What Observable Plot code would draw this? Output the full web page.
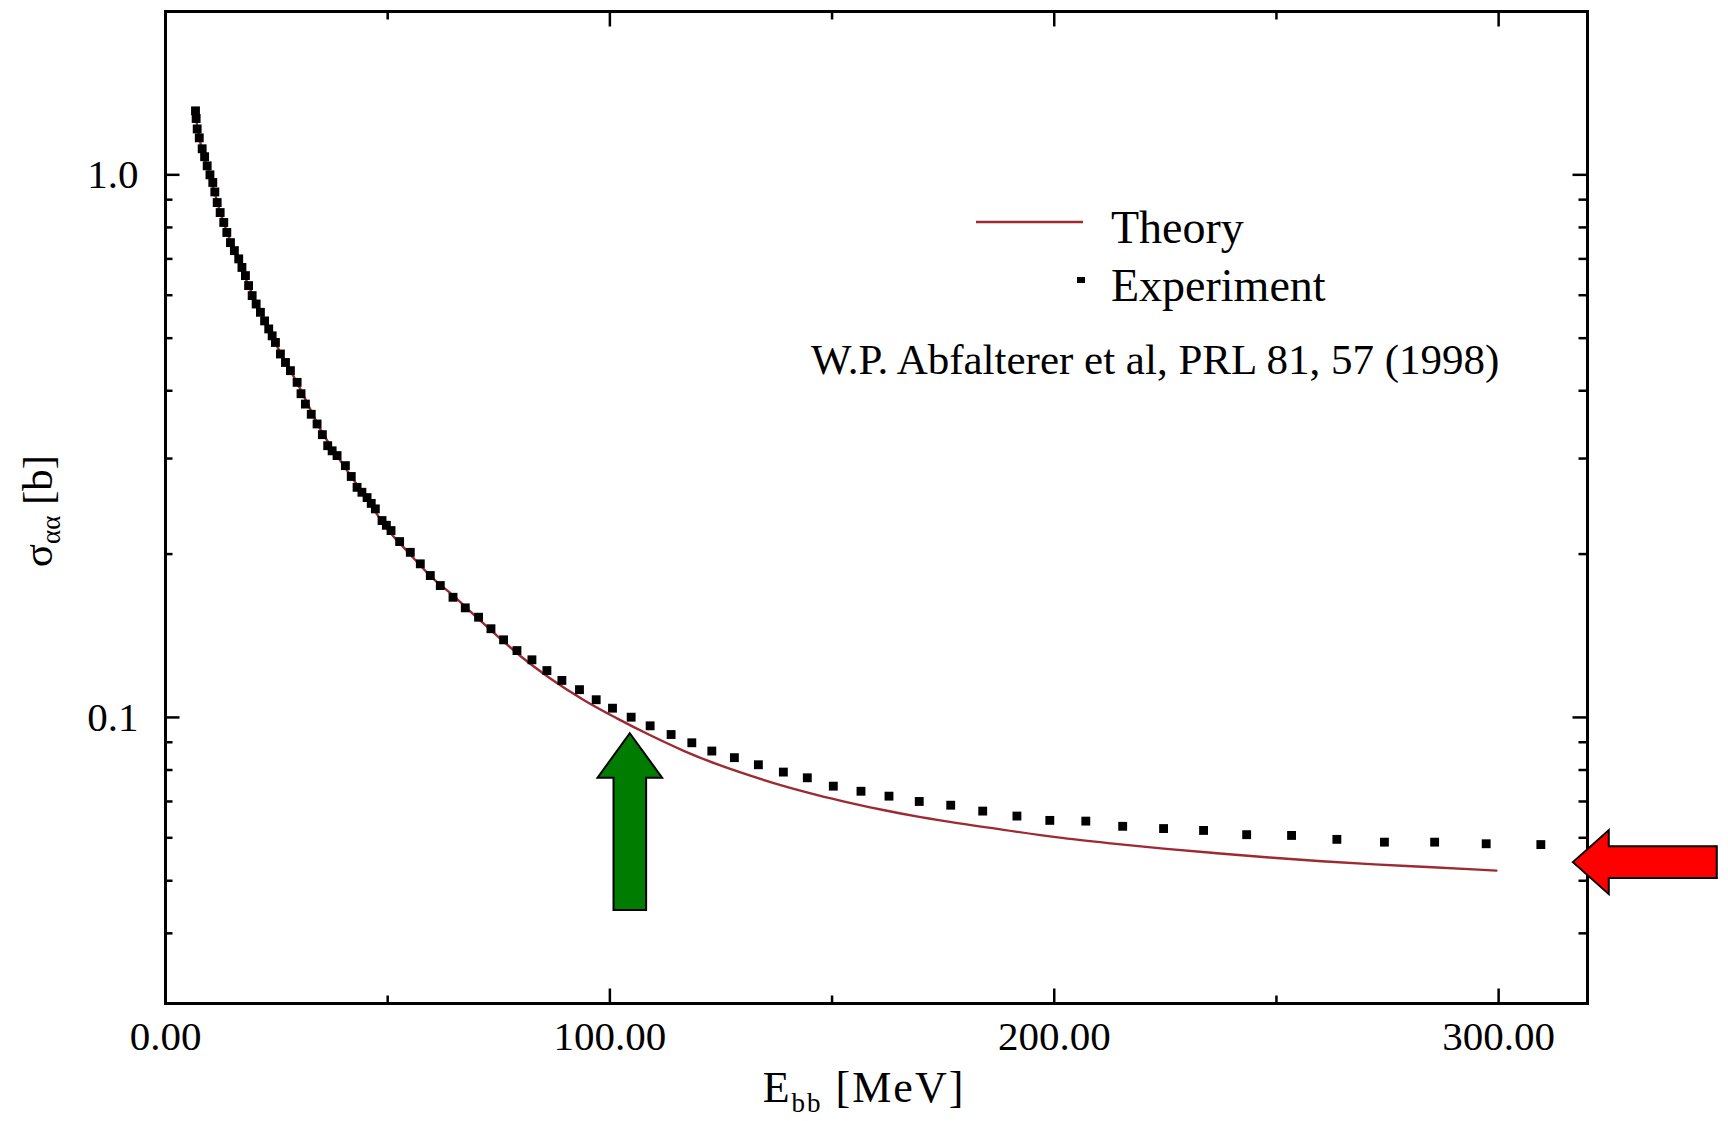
<!DOCTYPE html>
<html><head><meta charset="utf-8">
<script src="https://cdn.jsdelivr.net/npm/d3@7"></script>
<script src="https://cdn.jsdelivr.net/npm/@observablehq/plot@0.6"></script>
<style>html,body{margin:0;padding:0;background:#fff;} svg{display:block}</style>
</head><body><div id="chart"></div>
<script>
// ---- data ----
const expEnergy = [6.75,6.9,7.13,7.6,8.25,8.8,9.38,10.0,10.64,11.1,11.63,12.3,13.11,13.8,14.62,15.5,16.48,17.2,17.99,18.7,19.5,20.4,21.36,22.3,23.23,24.0,24.74,25.86,27.0,28.11,29.62,30.5,31.48,32.8,34.11,35.3,36.5,37.5,38.61,40.48,41.8,43.11,44.2,45.36,46.3,47.22,48.73,49.7,50.75,52.69,55.09,57.34,59.59,61.84,64.7,67.46,70.45,73.24,76.08,79.09,82.46,85.83,89.2,93.16,96.92,100.59,104.79,109.06,113.78,118.44,122.94,128.02,133.42,139.04,144.43,150.28,156.51,162.81,169.62,176.7,183.9,191.6,199.0,207.1,215.4,224.6,233.6,243.3,253.4,263.6,274.3,285.6,297.2,309.5];
const expSigma = [1.312,1.27,1.215,1.17,1.117,1.08,1.039,1.0,0.968,0.93,0.889,0.852,0.817,0.783,0.75,0.725,0.7,0.675,0.652,0.625,0.599,0.578,0.558,0.538,0.52,0.505,0.491,0.4675,0.451,0.4356,0.4145,0.395,0.378,0.362,0.3474,0.332,0.3168,0.31,0.3038,0.2911,0.278,0.2655,0.26,0.2542,0.248,0.2423,0.2306,0.226,0.221,0.2109,0.2015,0.1919,0.1826,0.175,0.1665,0.1592,0.153,0.1457,0.139,0.1328,0.1277,0.122,0.117,0.1125,0.1078,0.104,0.1001,0.0965,0.093,0.0898,0.0867,0.0843,0.0818,0.0793,0.0774,0.0747,0.0731,0.0716,0.07,0.0689,0.0672,0.0658,0.0646,0.0644,0.063,0.0624,0.0619,0.0608,0.0606,0.0596,0.0589,0.0589,0.0585,0.0583];
const theoryEnergy = [7,8,10,12,15,18,20,25,30,35,40,45,50,55,60,65,70,75,80,86.6,94.1,101.6,109.1,116.6,124.1,131.6,139.0,146.5,154.0,161.5,169.0,176.5,189.0,200.8,212.7,224.6,236.6,248.4,260.2,272.1,284.0,299.5];
const theorySigma = [1.25,1.13,1.0,0.87,0.74,0.645,0.59,0.485,0.408,0.338,0.292,0.255,0.222,0.2,0.181,0.167,0.153,0.1405,0.1295,0.118,0.1077,0.0996,0.0927,0.0868,0.082,0.0781,0.0748,0.072,0.0696,0.0675,0.0657,0.0642,0.062,0.0601,0.0586,0.0573,0.0562,0.0552,0.0543,0.0536,0.053,0.0522];
const xMajorTicks = [0,100,200,300];
const xMinorTicks = [50,150,250];
const xTickLabels = ["0.00","100.00","200.00","300.00"];
const yMajorTicks = [0.1,1.0];
const yMinorTicks = [0.04,0.05,0.06,0.07,0.08,0.09,0.2,0.3,0.4,0.5,0.6,0.7,0.8,0.9];
const yTickLabels = ["0.1","1.0"];
const legendLabels = ["Theory","Experiment"];
const citationText = ["W.P. Abfalterer et al, PRL 81, 57 (1998)"];
const arrowNames = ["green","red"];
const arrowEnergy = [104.6,316.8];
const arrowSigma = [0.0933,0.054];

// ---- build ----
const FONT = "'Liberation Serif','Times New Roman',serif";
const theoryColor = "#9c2a31";
const expData = expEnergy.map((e,i)=>({e, s: expSigma[i]}));
const theoryData = theoryEnergy.map((e,i)=>({e, s: theorySigma[i]}));
const tickShape = {draw(ctx, l){ ctx.moveTo(0,0); ctx.lineTo(0,-l); }};

function ticks(data, channel, anchor, rotate, length){
  const o = {frameAnchor: anchor, rotate, length, anchor:"start", shape: tickShape, stroke:"black", strokeWidth:2.5, strokeLinecap:"butt"};
  o[channel] = d=>d;
  return Plot.vector(data, o);
}

const plot = Plot.plot({
  width: 1728, height: 1121,
  marginLeft: 165, marginRight: 141, marginTop: 11, marginBottom: 118,
  style: {fontFamily: FONT, background: "white"},
  x: {domain: [0,320], axis: null},
  y: {type: "log", domain: [0.0297, 2.0], axis: null},
  marks: [
    Plot.line(theoryData, {x:"e", y:"s", stroke: theoryColor, strokeWidth: 2.4, curve: "monotone-x"}),
    Plot.dot(expData, {x:"e", y:"s", symbol:"square", r:5, fill:"black", stroke:null}),
    ticks(xMajorTicks, "x", "bottom", 0, 15),
    ticks(xMinorTicks, "x", "bottom", 0, 8),
    ticks(xMajorTicks, "x", "top", 180, 15),
    ticks(xMinorTicks, "x", "top", 180, 8),
    ticks(yMajorTicks, "y", "left", 90, 14),
    ticks(yMinorTicks, "y", "left", 90, 7),
    ticks(yMajorTicks, "y", "right", -90, 15),
    ticks(yMinorTicks, "y", "right", -90, 9),
    Plot.frame({stroke:"black", strokeWidth:3}),
    Plot.text(xMajorTicks, {x: d=>d, text: (d,i)=>xTickLabels[i], frameAnchor:"bottom", dy: 17, lineAnchor:"top", fontSize: 41, fill:"black", letterSpacing: 1}),
    Plot.text(yMajorTicks, {y: d=>d, text: (d,i)=>yTickLabels[i], frameAnchor:"left", dx: -27, textAnchor:"end", lineAnchor:"middle", fontSize: 41, fill:"black"})
  ]
});
document.getElementById("chart").append(plot);

const svg = d3.select(plot);
const sx = plot.scale("x"), sy = plot.scale("y");

// axis titles
const yt = svg.append("text").attr("transform","translate(52,511) rotate(-90)")
  .attr("text-anchor","middle").attr("font-family",FONT).attr("font-size",43).attr("fill","black");
yt.append("tspan").text("σ");
yt.append("tspan").attr("font-size",27).attr("dy",8).text("αα");
yt.append("tspan").attr("dy",-8).text(" [b]");

const xt = svg.append("text").attr("x",864).attr("y",1102)
  .attr("text-anchor","middle").attr("font-family",FONT).attr("font-size",44).attr("fill","black").attr("letter-spacing",2);
xt.append("tspan").text("E");
xt.append("tspan").attr("font-size",27).attr("dy",10).text("bb");
xt.append("tspan").attr("dy",-10).text(" [MeV]");

// legend
const lg = svg.append("g").attr("font-family",FONT).attr("fill","black").attr("text-anchor","start");
lg.append("line").attr("x1",976).attr("x2",1083).attr("y1",222).attr("y2",222).attr("stroke",theoryColor).attr("stroke-width",2.5);
lg.append("text").attr("x",1111).attr("y",243).attr("font-size",46).attr("text-anchor","start").text(legendLabels[0]);
lg.append("rect").attr("x",1077).attr("y",277).attr("width",8).attr("height",6).attr("fill","black");
lg.append("text").attr("x",1111).attr("y",301).attr("font-size",46).attr("text-anchor","start").text(legendLabels[1]);
lg.append("text").attr("x",811).attr("y",374).attr("font-size",43).attr("text-anchor","start").text(citationText[0]);

// block arrows anchored at data positions
const arrowShapes = {
  green: {fill:"#007c00", pts:[[0,0],[32.3,44.4],[16.3,44.4],[16.3,176.7],[-16.3,176.7],[-16.3,44.4],[-32.3,44.4]]},
  red: {fill:"#ff0000", pts:[[0,0],[36,-32],[36,-15.8],[144,-15.8],[144,15.8],[36,15.8],[36,32]]}
};
arrowNames.forEach((n,i)=>{
  const tx = sx.apply(arrowEnergy[i]), ty = sy.apply(arrowSigma[i]);
  const a = arrowShapes[n];
  svg.append("polygon").attr("points", a.pts.map(p=>[tx+p[0],ty+p[1]].join(",")).join(" "))
    .attr("fill",a.fill).attr("stroke","black").attr("stroke-width",2).attr("stroke-linejoin","miter");
});
</script>
</body></html>
